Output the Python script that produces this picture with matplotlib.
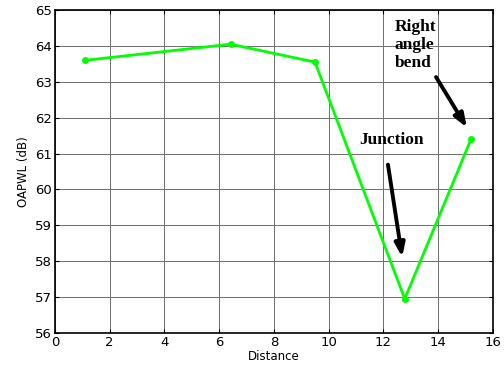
import matplotlib.pyplot as plt

# OAPWL measured along the duct
distance = [1.1, 6.42, 9.5, 12.78, 15.2]
oapwl = [63.6, 64.05, 63.55, 56.95, 61.4]

xticks = [0, 2, 4, 6, 8, 10, 12, 14, 16]
yticks = [56, 57, 58, 59, 60, 61, 62, 63, 64, 65]

fig = plt.figure(figsize=(5.04, 3.69), dpi=100)
ax = fig.add_axes([0.109, 0.0976, 0.869, 0.875])

ax.plot(distance, oapwl, color="#00ff00", lw=2, marker="o", ms=4,
        mec="#00ff00", mfc="#00ff00", zorder=3)

ax.set_xlim(0, 16)
ax.set_ylim(56, 65)
ax.set_xticks(xticks)
ax.set_yticks(yticks)
ax.grid(True, color="#6e6e6e", lw=0.7)
ax.tick_params(direction="in", top=True, right=True, labelsize=9.5, length=3, pad=2)
for s in ax.spines.values():
    s.set_linewidth(1.2)

ax.set_xlabel("Distance", fontsize=8.5, labelpad=1)
ax.set_ylabel("OAPWL (dB)", fontsize=8.5, labelpad=4)

# annotations
serif = dict(family="Liberation Serif", fontweight="bold", fontsize=12.5)
arrow = dict(arrowstyle="-|>,head_length=0.8,head_width=0.3", color="black", lw=2.8)
ax.text(12.4, 64.75, "Right\nangle\nbend", ha="left", va="top",
        linespacing=1.15, **serif)
ax.annotate("", xy=(15.1, 61.66), xytext=(13.87, 63.2), arrowprops=arrow)
ax.text(11.1, 61.38, "Junction", ha="left", va="center", **serif)
ax.annotate("", xy=(12.7, 58.04), xytext=(12.15, 60.77), arrowprops=arrow)

fig.savefig("out.png", dpi=100)
